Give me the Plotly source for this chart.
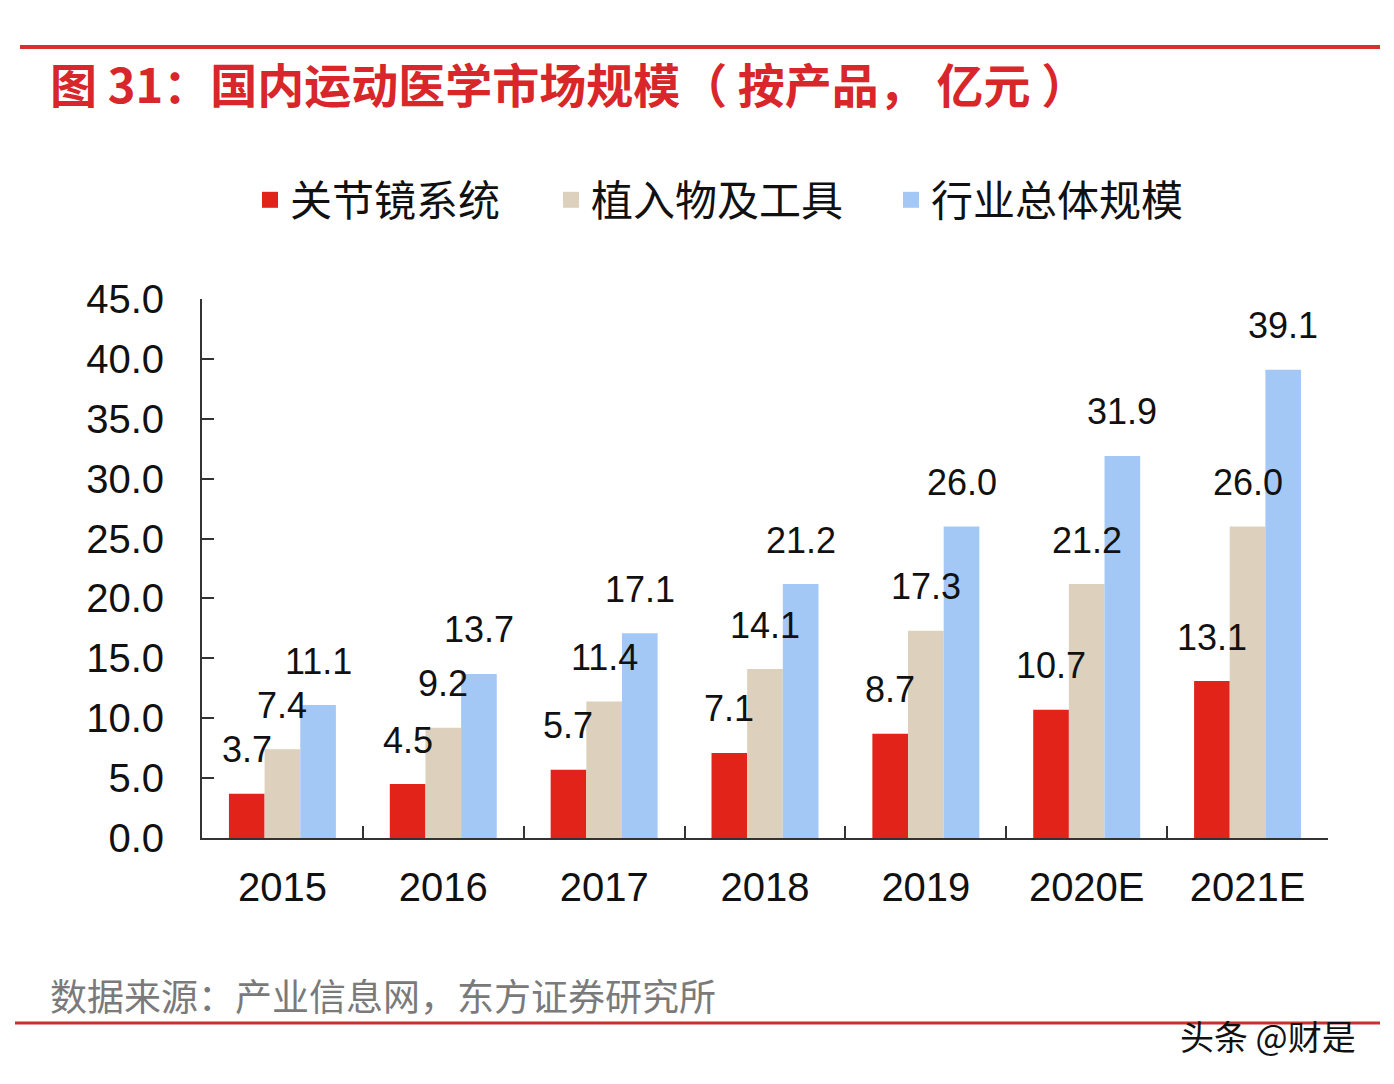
import plotly.graph_objects as go

W, H = 1394, 1084
L, R, T, B = 202, 66, 299, 246

categories = ["2015", "2016", "2017", "2018", "2019", "2020E", "2021E"]
series_names = ["关节镜系统", "植入物及工具", "行业总体规模"]
arthroscopy = [3.7, 4.5, 5.7, 7.1, 8.7, 10.7, 13.1]
implants = [7.4, 9.2, 11.4, 14.1, 17.3, 21.2, 26.0]
total = [11.1, 13.7, 17.1, 21.2, 26.0, 31.9, 39.1]
colors = ["#E2231A", "#DDD1BD", "#A4C8F6"]

series_values = [arthroscopy, implants, total]
legend_x = [262, 563, 903]

pw = W - L - R
ph = H - T - B


def px(x):
    return (x - L) / pw


def py(y):
    return (H - B - y) / ph


bargap = 0.335
bar_w = pw / len(categories) * (1 - bargap) / 3

fig = go.Figure()
legend_ids = ["legend", "legend2", "legend3"]
for name, vals, col, lid in zip(series_names, series_values, colors, legend_ids):
    fig.add_trace(go.Bar(name=name, x=categories, y=vals, marker_color=col,
                         marker_line_width=0, showlegend=False))
    fig.add_trace(go.Scatter(name=name, x=[None], y=[None], mode="markers",
                             marker=dict(symbol="square", size=20, color=col),
                             showlegend=True, legend=lid, hoverinfo="skip"))

annotations = []
for i, vals in enumerate(series_values):
    for j, v in enumerate(vals):
        annotations.append(dict(x=j, y=v, xref="x", yref="y", text=f"{v:.1f}",
                                showarrow=False, xshift=(i - 1) * bar_w, yshift=44,
                                yanchor="middle", xanchor="center",
                                font=dict(family="Liberation Sans, Arial", size=36, color="#111111")))

annotations += [
    dict(x=px(48), y=py(83), xref="paper", yref="paper", xanchor="left", yanchor="middle",
         text="<b>图 31：国内运动医学市场规模（ 按产品， 亿元 ）</b>", showarrow=False,
         font=dict(family="Noto Sans CJK SC", size=47, color="#D8262A")),
    dict(x=px(48), y=py(995), xref="paper", yref="paper", xanchor="left", yanchor="middle",
         text="数据来源：产业信息网，东方证券研究所", showarrow=False,
         font=dict(family="Noto Sans CJK SC", size=37, color="#7A7A7A")),
    dict(x=px(1178), y=py(1035), xref="paper", yref="paper", xanchor="left", yanchor="middle",
         text="头条 @财是", showarrow=False,
         font=dict(family="Noto Sans CJK SC", size=34, color="#111111")),
]

shapes = [
    dict(type="line", xref="paper", yref="paper", x0=px(20), x1=px(1380), y0=py(47), y1=py(47),
         line=dict(color="#D8312C", width=4)),
    dict(type="line", xref="paper", yref="paper", x0=px(15), x1=px(1380), y0=py(1023), y1=py(1023),
         line=dict(color="#C8302A", width=3)),
]

legend_style = dict(orientation="h", xref="container", yref="container",
                    xanchor="left", y=1 - 200 / H, yanchor="middle",
                    font=dict(family="Noto Sans CJK SC", size=42, color="#111111"),
                    itemsizing="trace", bgcolor="rgba(0,0,0,0)")

fig.update_layout(
    width=W, height=H,
    margin=dict(l=L, r=R, t=T, b=B),
    paper_bgcolor="white", plot_bgcolor="white",
    barmode="group", bargap=bargap, bargroupgap=0,
    showlegend=True,
    legend=dict(x=(legend_x[0] - 12) / W, **legend_style),
    legend2=dict(x=(legend_x[1] - 12) / W, **legend_style),
    legend3=dict(x=(legend_x[2] - 12) / W, **legend_style),
    annotations=annotations,
    shapes=shapes,
    font=dict(family="Liberation Sans, Arial"),
)
fig.update_xaxes(type="category", range=[-0.5, len(categories) - 0.5], autorange=False,
                 showline=True, linecolor="#333333", linewidth=2, ticks="inside",
                 tickson="boundaries", ticklen=12, tickcolor="#333333", tickwidth=2,
                 showgrid=False, ticklabelstandoff=13,
                 tickfont=dict(family="Liberation Sans, Arial", size=40, color="#111111"))
fig.update_yaxes(range=[0, 45], autorange=False, dtick=5, tickformat=".1f", showline=True,
                 linecolor="#333333",
                 linewidth=2, ticks="inside", ticklen=12, tickcolor="#333333", tickwidth=2,
                 showgrid=False, zeroline=False, ticklabelstandoff=28,
                 tickfont=dict(family="Liberation Sans, Arial", size=40, color="#111111"))

fig.write_html("out.html")
